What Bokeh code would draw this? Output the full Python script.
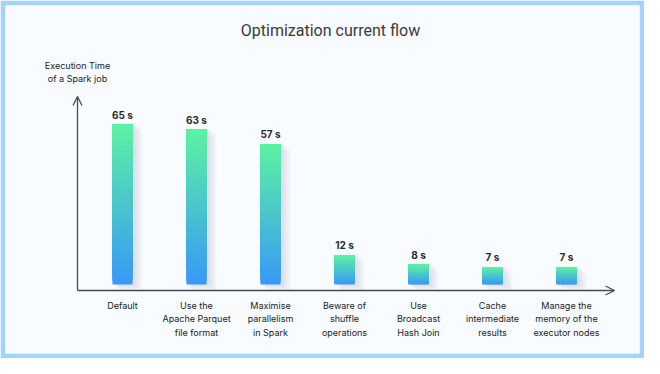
import numpy as np
from bokeh.plotting import figure
from bokeh.models import Range1d, Arrow, OpenHead
from bokeh.core.properties import value
from bokeh.embed import file_html
from bokeh.resources import INLINE

# ---- data ----
categories = [
    "Default",
    "Use the\nApache Parquet\nfile format",
    "Maximise\nparallelism\nin Spark",
    "Beware of\nshuffle\noperations",
    "Use\nBroadcast\nHash Join",
    "Cache\nintermediate\nresults",
    "Manage the\nmemory of the\nexecutor nodes",
]
times = [65, 63, 57, 12, 8, 7, 7]
value_labels = [f"{t} s" for t in times]
title_text = "Optimization current flow"
y_label = "Execution Time\nof a Spark job"

# ---- layout (pixels) ----
W, H = 644, 358
B = 5
X0, DX = 122, 74      # x of first bar centre, spacing between bars
Y0, K = 284, 2.46     # y of value 0, pixels per second


def fx(px):
    return (px - X0) / DX


def fy(py):
    return (Y0 - py) / K


p = figure(width=W, height=H, output_backend="svg", toolbar_location=None,
           x_range=Range1d(fx(B), fx(W - B)),
           y_range=Range1d(fy(H - B), fy(B)),
           x_axis_type=None, y_axis_type=None,
           min_border_left=B, min_border_right=B, min_border_top=B, min_border_bottom=B)
p.title.visible = False
p.grid.visible = False
p.outline_line_color = None
p.background_fill_color = "#f8fbff"
p.border_fill_color = "#a3d4fd"

idx = list(range(len(times)))
hw = 10 / DX

# soft shadow to the right of every bar
for s in range(1, 6):
    p.quad(left=[i - hw + (1 + s) / DX for i in idx],
           right=[i + hw + (2 + 1.6 * s) / DX for i in idx],
           bottom=[-(1.2 * s) / K for _ in idx],
           top=[t - (2 * s - 4) / K for t in times],
           fill_color="#6b7c95", fill_alpha=0.035, line_color=None)

# gradient bars built from overlapping slices (each reaches the bar top)
top_rgb = np.array([0x5c, 0xf2, 0xa2])
bot_rgb = np.array([0x38, 0x98, 0xf6])
n = 60
L, R, Bo, T, C = [], [], [], [], []
for j in range(n):
    f = (j + 0.5) / n
    c = bot_rgb + (top_rgb - bot_rgb) * f
    col = "#%02x%02x%02x" % tuple(int(round(v)) for v in c)
    for i, t in zip(idx, times):
        L.append(i - hw)
        R.append(i + hw)
        Bo.append(t * j / n)
        T.append(t)
        C.append(col)
p.quad(left=L, right=R, bottom=Bo, top=T, fill_color=C, line_color=None)

# value labels
p.text(x=idx, y=times, text=value_labels, text_align="center", text_baseline="bottom",
       y_offset=-4, text_font=value("Inter"), text_font_style="bold",
       text_font_size="10px", text_color="#2a2a2a")

# category labels
p.text(x=idx, y=[fy(299)] * len(idx), text=categories, text_align="center",
       text_baseline="top", text_font=value("Inter"), text_font_size="9px",
       text_line_height=1.25, text_color="#222222")

# axes with arrow heads
axis_color = "#4a4a4a"
p.add_layout(Arrow(x_start=fx(77), y_start=fy(290), x_end=fx(77), y_end=fy(96),
                   line_color=axis_color, line_width=1.3,
                   end=OpenHead(size=9, line_color=axis_color, line_width=1.3)))
p.add_layout(Arrow(x_start=fx(77), y_start=fy(290), x_end=fx(614), y_end=fy(290),
                   line_color=axis_color, line_width=1.3,
                   end=OpenHead(size=9, line_color=axis_color, line_width=1.3)))

# axis title
p.text(x=[fx(77)], y=[fy(59)], text=[y_label], text_align="center", text_baseline="top",
       text_font=value("Inter"), text_font_size="9px", text_line_height=1.25,
       text_color="#222222")

# chart title
p.text(x=[fx(330)], y=[fy(30)], text=[title_text], text_align="center",
       text_baseline="middle", text_font=value("Roboto"), text_font_size="16px",
       text_color="#3a3a3a")

open("out.html", "w").write(file_html(p, INLINE))
